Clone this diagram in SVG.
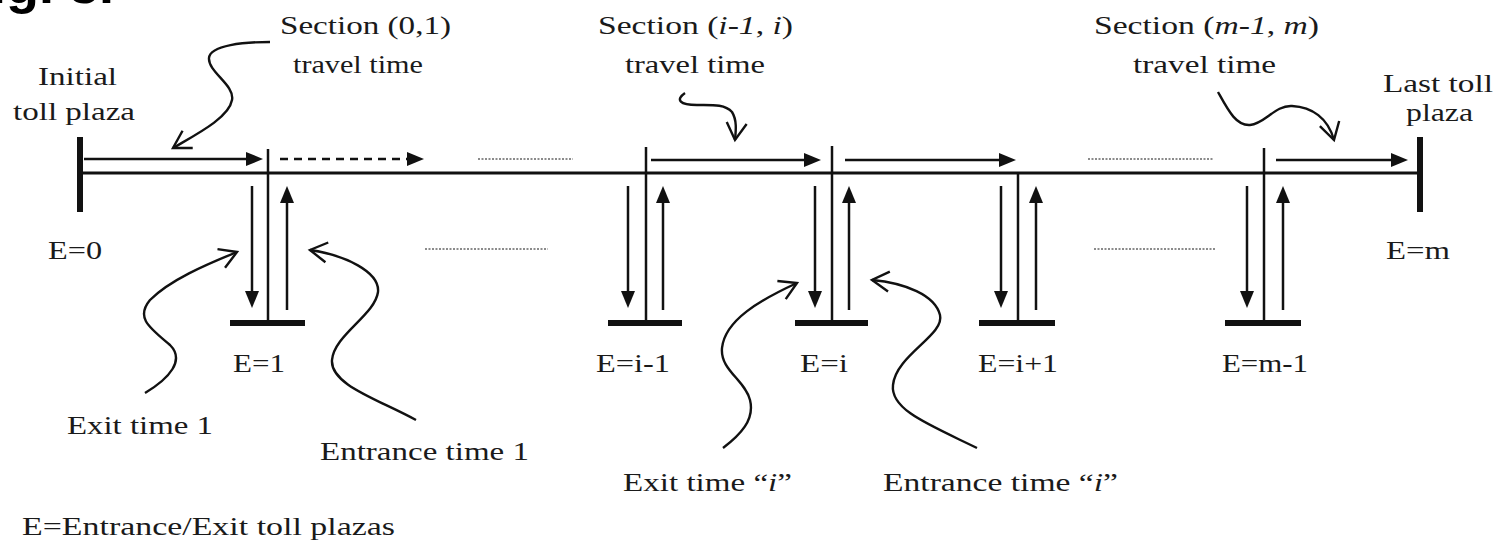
<svg xmlns="http://www.w3.org/2000/svg" width="1507" height="540" viewBox="0 0 1507 540">
<defs>
<marker id="tri" markerUnits="userSpaceOnUse" markerWidth="20" markerHeight="16" refX="1" refY="7" orient="auto" overflow="visible">
<path d="M0,0 L17,7 L0,14 Z" fill="#111"/>
</marker>
<marker id="open" markerUnits="userSpaceOnUse" markerWidth="20" markerHeight="22" refX="17" refY="10" orient="auto" overflow="visible">
<path d="M0,0 L17,10 L0,20" fill="none" stroke="#111" stroke-width="2.4" stroke-linejoin="miter"/>
</marker>
</defs>
<style>
text{font-family:"Liberation Serif","Times New Roman",serif;font-size:26px;fill:#1a1a1a;}
.it{font-style:italic;}
.road{stroke:#111;stroke-width:3;fill:none;}
.plaza{stroke:#111;stroke-width:6;fill:none;}
.bar{stroke:#111;stroke-width:6;fill:none;}
.stem{stroke:#111;stroke-width:2.5;fill:none;}
.arr{stroke:#111;stroke-width:2.5;fill:none;marker-end:url(#tri);}
.dash{stroke:#111;stroke-width:2.5;fill:none;stroke-dasharray:8 6;marker-end:url(#tri);}
.dots{stroke:#666;stroke-width:1.5;fill:none;stroke-dasharray:2 1.5;}
.curve{stroke:#111;stroke-width:2.4;fill:none;marker-end:url(#open);}
.fig{font-family:"Liberation Sans",Arial,sans-serif;font-weight:bold;font-size:54px;fill:#000;}
</style>
<rect x="0" y="0" width="1507" height="540" fill="#fff"/>
<text class="fig" x="-42" y="3">Fig. 3.</text>

<g id="connectors">
<line class="road" x1="80" y1="173" x2="1420" y2="173"/>
<line class="arr" x1="84" y1="159" x2="247" y2="159"/>
<line class="dash" x1="280" y1="159" x2="408" y2="159"/>
<line class="dots" x1="478" y1="159" x2="573" y2="159"/>
<line class="arr" x1="651" y1="160" x2="805" y2="160"/>
<line class="arr" x1="845" y1="160" x2="1000" y2="160"/>
<line class="dots" x1="1088" y1="159" x2="1214" y2="159"/>
<line class="arr" x1="1276" y1="160" x2="1392" y2="160"/>
<line class="dots" x1="425" y1="249" x2="548" y2="249"/>
<line class="dots" x1="1094" y1="249" x2="1216" y2="249"/>
<path class="curve" d="M270,42 C245,42 210,45 209,58 C208,72 235,85 232,100 C229,118 195,135 173,148"/>
<path class="curve" d="M685,93 C675,100 680,105 697,105 C712,105 725,104 732,112 C737,120 736,130 735,140"/>
<path class="curve" d="M1218,92 C1228,110 1236,126 1250,125 C1265,124 1275,105 1292,106 C1312,107 1328,118 1334,140"/>
<path class="curve" d="M145,393 C170,378 185,360 170,345 C150,328 135,318 150,300 C170,280 205,265 237,252"/>
<path class="curve" d="M416,420 C380,400 330,385 332,360 C334,335 375,315 378,292 C380,272 345,255 310,250"/>
<path class="curve" d="M723,448 C740,435 755,420 750,400 C745,380 720,370 722,348 C725,320 760,300 797,283"/>
<path class="curve" d="M977,448 C930,425 890,410 893,385 C896,355 945,335 940,315 C935,295 905,283 872,280"/>
</g>

<g id="plaza-0">
<line class="plaza" x1="80" y1="137" x2="80" y2="212"/>
<text x="38" y="85" textLength="79" lengthAdjust="spacingAndGlyphs">Initial</text>
<text x="13" y="120" textLength="122" lengthAdjust="spacingAndGlyphs">toll plaza</text>
<text x="48" y="259" textLength="54" lengthAdjust="spacingAndGlyphs">E=0</text>
</g>

<g id="station-1">
<line class="stem" x1="268" y1="149" x2="268" y2="323"/>
<line class="bar" x1="230" y1="323" x2="305" y2="323"/>
<line class="arr" x1="252" y1="186" x2="252" y2="292"/>
<line class="arr" x1="287" y1="310" x2="287" y2="202"/>
<text x="233" y="372" textLength="52" lengthAdjust="spacingAndGlyphs">E=1</text>
</g>

<g id="station-i-1">
<line class="stem" x1="646" y1="147" x2="646" y2="323"/>
<line class="bar" x1="608" y1="323" x2="682" y2="323"/>
<line class="arr" x1="628" y1="186" x2="628" y2="292"/>
<line class="arr" x1="663" y1="310" x2="663" y2="202"/>
<text x="596" y="372" textLength="74" lengthAdjust="spacingAndGlyphs">E=i-1</text>
</g>

<g id="station-i">
<line class="stem" x1="832" y1="146" x2="832" y2="323"/>
<line class="bar" x1="795" y1="323" x2="868" y2="323"/>
<line class="arr" x1="815" y1="186" x2="815" y2="292"/>
<line class="arr" x1="849" y1="310" x2="849" y2="202"/>
<text x="800" y="372" textLength="48" lengthAdjust="spacingAndGlyphs">E=i</text>
</g>

<g id="station-i+1">
<line class="stem" x1="1018" y1="173" x2="1018" y2="323"/>
<line class="bar" x1="979" y1="323" x2="1055" y2="323"/>
<line class="arr" x1="1001" y1="186" x2="1001" y2="292"/>
<line class="arr" x1="1036" y1="310" x2="1036" y2="202"/>
<text x="978" y="372" textLength="80" lengthAdjust="spacingAndGlyphs">E=i+1</text>
</g>

<g id="station-m-1">
<line class="stem" x1="1264" y1="148" x2="1264" y2="323"/>
<line class="bar" x1="1225" y1="323" x2="1301" y2="323"/>
<line class="arr" x1="1247" y1="186" x2="1247" y2="292"/>
<line class="arr" x1="1283" y1="310" x2="1283" y2="202"/>
<text x="1222" y="372" textLength="86" lengthAdjust="spacingAndGlyphs">E=m-1</text>
</g>

<g id="plaza-m">
<line class="plaza" x1="1420" y1="137" x2="1420" y2="212"/>
<text x="1383" y="92" textLength="110" lengthAdjust="spacingAndGlyphs">Last toll</text>
<text x="1406" y="121" textLength="67" lengthAdjust="spacingAndGlyphs">plaza</text>
<text x="1386" y="259" textLength="64" lengthAdjust="spacingAndGlyphs">E=m</text>
</g>

<g id="label-section-01">
<text x="280" y="34" textLength="171" lengthAdjust="spacingAndGlyphs">Section (0,1)</text>
<text x="293" y="73" textLength="130" lengthAdjust="spacingAndGlyphs">travel time</text>
</g>
<g id="label-section-i">
<text x="598" y="34" textLength="195" lengthAdjust="spacingAndGlyphs">Section (<tspan class="it">i-1</tspan>, <tspan class="it">i</tspan>)</text>
<text x="625" y="73" textLength="140" lengthAdjust="spacingAndGlyphs">travel time</text>
</g>
<g id="label-section-m">
<text x="1094" y="34" textLength="225" lengthAdjust="spacingAndGlyphs">Section (<tspan class="it">m-1</tspan>, <tspan class="it">m</tspan>)</text>
<text x="1133" y="73" textLength="143" lengthAdjust="spacingAndGlyphs">travel time</text>
</g>
<g id="label-exit-1"><text x="67" y="434" textLength="146" lengthAdjust="spacingAndGlyphs">Exit time 1</text></g>
<g id="label-entrance-1"><text x="320" y="460" textLength="209" lengthAdjust="spacingAndGlyphs">Entrance time 1</text></g>
<g id="label-exit-i"><text x="623" y="491" textLength="169" lengthAdjust="spacingAndGlyphs">Exit time “<tspan class="it">i</tspan>”</text></g>
<g id="label-entrance-i"><text x="883" y="491" textLength="235" lengthAdjust="spacingAndGlyphs">Entrance time “<tspan class="it">i</tspan>”</text></g>
<g id="legend"><text x="22" y="535" textLength="373" lengthAdjust="spacingAndGlyphs">E=Entrance/Exit toll plazas</text></g>
</svg>
